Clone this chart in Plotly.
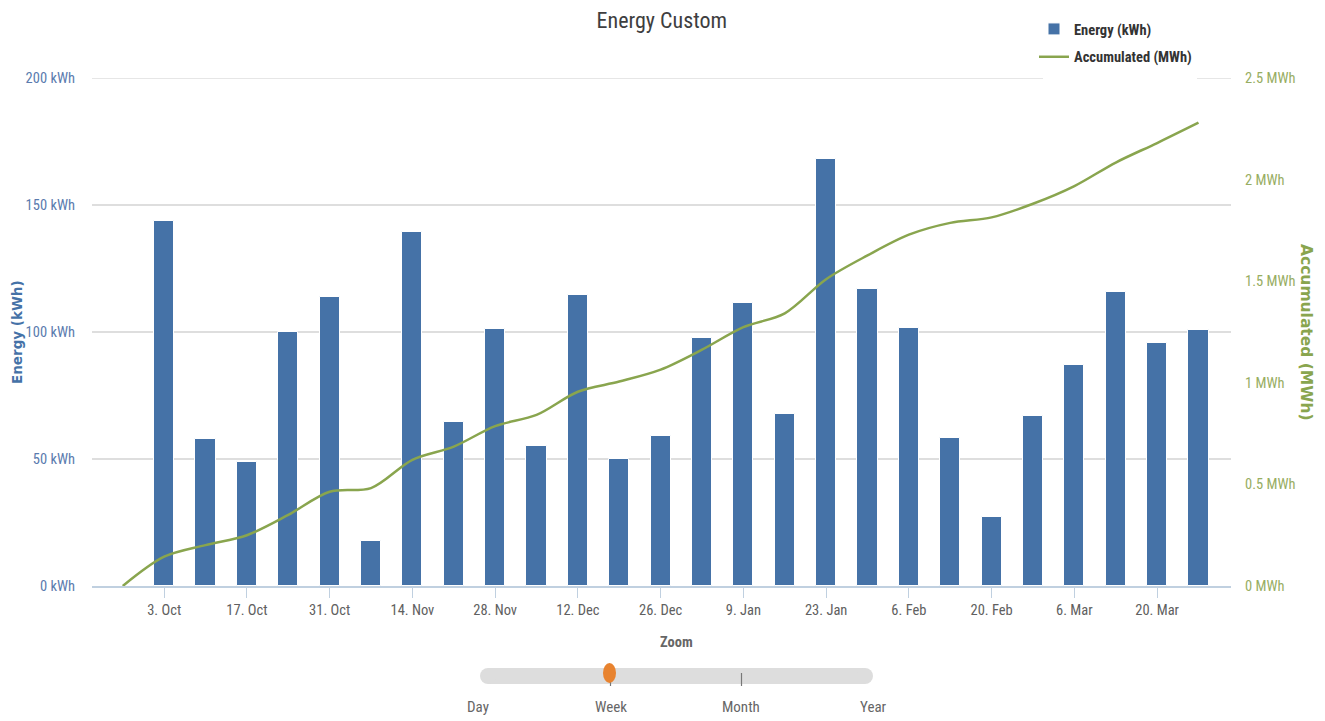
import plotly.graph_objects as go

# Weekly energy production (kWh), one bar per week starting Monday
week_starts = [
    "2016-10-03", "2016-10-10", "2016-10-17", "2016-10-24", "2016-10-31",
    "2016-11-07", "2016-11-14", "2016-11-21", "2016-11-28", "2016-12-05",
    "2016-12-12", "2016-12-19", "2016-12-26", "2017-01-02", "2017-01-09",
    "2017-01-16", "2017-01-23", "2017-01-30", "2017-02-06", "2017-02-13",
    "2017-02-20", "2017-02-27", "2017-03-06", "2017-03-13", "2017-03-20",
    "2017-03-27",
]
energy_kwh = [
    143.6, 57.7, 48.7, 100.0, 113.8, 17.7, 139.3, 64.7, 101.2, 55.1,
    114.5, 50.1, 58.9, 97.5, 111.3, 67.9, 168.2, 117.0, 101.7, 58.2,
    27.1, 66.9, 87.2, 115.7, 95.5, 100.7,
]

# Running total (MWh), starting from zero one week before the first bar
accum_dates = ["2016-09-26"] + week_starts
accum_mwh = [
    0.0, 0.144, 0.201, 0.250, 0.350, 0.464, 0.482, 0.621, 0.686, 0.787,
    0.842, 0.956, 1.006, 1.065, 1.163, 1.274, 1.342, 1.510, 1.627, 1.729,
    1.787, 1.814, 1.881, 1.968, 2.084, 2.180, 2.280,
]

left_ticks = [0, 50, 100, 150, 200]
left_labels = ["0 kWh", "50 kWh", "100 kWh", "150 kWh", "200 kWh"]
right_ticks = [0, 0.5, 1, 1.5, 2, 2.5]
right_labels = ["0 MWh", "0.5 MWh", "1 MWh", "1.5 MWh", "2 MWh", "2.5 MWh"]

zoom_levels = ["Day", "Week", "Month", "Year"]

W, H = 1325, 721
ML, MR, MT, MB = 92, 94, 78, 135
PW, PH = W - ML - MR, H - MT - MB


def px(x):
    return (x - ML) / PW


def py(y):
    return (H - MB - y) / PH


FONT = ("Noto Sans ExtraCondensed, Noto Sans Condensed, Noto Sans SemiCondensed, "
        "Roboto Condensed, Liberation Sans Narrow, Roboto, sans-serif")
WIDE = "DejaVu Sans, Verdana, sans-serif"
BLUE = "#4572A7"
GREEN = "#89A54E"
GRID = "#DEDEDE"

fig = go.Figure()

fig.add_trace(go.Bar(
    x=week_starts, y=energy_kwh, name="Energy (kWh)", legendgroup="energy",
    marker=dict(color=BLUE, line=dict(color="#ffffff", width=1)),
    width=3.4 * 86400000, yaxis="y",
))

fig.add_trace(go.Scatter(
    x=accum_dates, y=accum_mwh, name="Accumulated (MWh)", mode="lines",
    legendgroup="accum",
    line=dict(color=GREEN, width=2.5, shape="spline", smoothing=0.9),
    yaxis="y2",
))

fig.update_layout(
    width=W, height=H,
    margin=dict(l=ML, r=MR, t=MT, b=MB),
    paper_bgcolor="white", plot_bgcolor="white",
    font=dict(family=FONT, size=14.5, color="#606060"),
    title=dict(text="Energy Custom", x=0.4995, xanchor="center", y=1 - 20 / H,
               yanchor="middle", font=dict(family=FONT, size=22, color="#3E3E40")),
    showlegend=True,
    legend=dict(x=px(1034), y=py(13), xanchor="left", yanchor="top",
                bgcolor="rgba(255,255,255,0)", borderwidth=0, itemwidth=30,
                font=dict(family=FONT, size=14.5, color="#333333", weight="bold"),
                tracegroupgap=6),
    bargap=0,
    xaxis=dict(
        type="date",
        range=["2016-09-20 19:00", "2017-04-01 12:00"],
        tick0="2016-10-03", dtick=14 * 86400000, tickformat="%-d. %b",
        ticks="outside", ticklen=10, tickcolor="#C0D0E0", tickwidth=1,
        showline=True, linecolor="#C0D0E0", linewidth=1.5,
        showgrid=False, zeroline=False,
        tickfont=dict(family=FONT, size=14.5, color="#606060"),
    ),
    yaxis=dict(
        range=[0, 200], tickvals=left_ticks, ticktext=left_labels,
        showgrid=True, gridcolor=GRID, gridwidth=1.5,
        zeroline=False, showline=False, ticks="",
        ticklabelstandoff=16,
        tickfont=dict(family=FONT, size=14.5, color="#5A7BAE"),
    ),
    yaxis2=dict(
        range=[0, 2.5], tickvals=right_ticks, ticktext=right_labels,
        overlaying="y", side="right", showgrid=False, zeroline=False,
        showline=False, ticks="", ticklabelstandoff=13,
        tickfont=dict(family=FONT, size=14.5, color="#97AD62"),
    ),
)

annotations = [
    dict(text="<b>Energy (kWh)</b>", x=px(17), y=py(332), xref="paper", yref="paper",
         textangle=-90, showarrow=False, xanchor="center", yanchor="middle",
         font=dict(family=WIDE, size=13.5, color=BLUE)),
    dict(text="<b>Accumulated (MWh)</b>", x=px(1306), y=py(332), xref="paper",
         yref="paper", textangle=90, showarrow=False, xanchor="center",
         yanchor="middle", font=dict(family=WIDE, size=15.5, color=GREEN)),
    dict(text="<b>Zoom</b>", x=px(676), y=py(642), xref="paper", yref="paper",
         showarrow=False, xanchor="center", yanchor="middle",
         font=dict(family=FONT, size=14.5, color="#666666")),
]
zoom_x = [478, 611, 741, 873]
for lbl, zx in zip(zoom_levels, zoom_x):
    annotations.append(dict(text=lbl, x=px(zx), y=py(707), xref="paper",
                            yref="paper", showarrow=False, xanchor="center",
                            yanchor="middle",
                            font=dict(family=FONT, size=15, color="#666666")))

shapes = [
    # top gridline at 200 kWh, broken behind the legend box
    dict(type="line", xref="paper", yref="y", x0=0, x1=px(1043), y0=200, y1=200,
         line=dict(color=GRID, width=1.5), layer="below"),
    dict(type="line", xref="paper", yref="y", x0=px(1197), x1=1, y0=200, y1=200,
         line=dict(color=GRID, width=1.5), layer="below"),
    # slider track
    dict(type="rect", xref="paper", yref="paper", x0=px(488), x1=px(865),
         y0=py(684), y1=py(668), fillcolor="#DDDDDD", line=dict(width=0), layer="above"),
    dict(type="circle", xref="paper", yref="paper", x0=px(480), x1=px(496),
         y0=py(684), y1=py(668), fillcolor="#DDDDDD", line=dict(width=0), layer="above"),
    dict(type="circle", xref="paper", yref="paper", x0=px(857), x1=px(873),
         y0=py(684), y1=py(668), fillcolor="#DDDDDD", line=dict(width=0), layer="above"),
    # month tick on the track
    dict(type="line", xref="paper", yref="paper", x0=px(741.5), x1=px(741.5),
         y0=py(673), y1=py(686), line=dict(color="#777777", width=1.2), layer="above"),
    # week tick and handle
    dict(type="line", xref="paper", yref="paper", x0=px(610.5), x1=px(610.5),
         y0=py(680), y1=py(686), line=dict(color="#777777", width=1.2), layer="above"),
    dict(type="circle", xref="paper", yref="paper", x0=px(603), x1=px(616),
         y0=py(683), y1=py(663), fillcolor="#E8832F", line=dict(width=0), layer="above"),
]

fig.update_layout(annotations=annotations, shapes=shapes)

fig.write_html("out.html")
